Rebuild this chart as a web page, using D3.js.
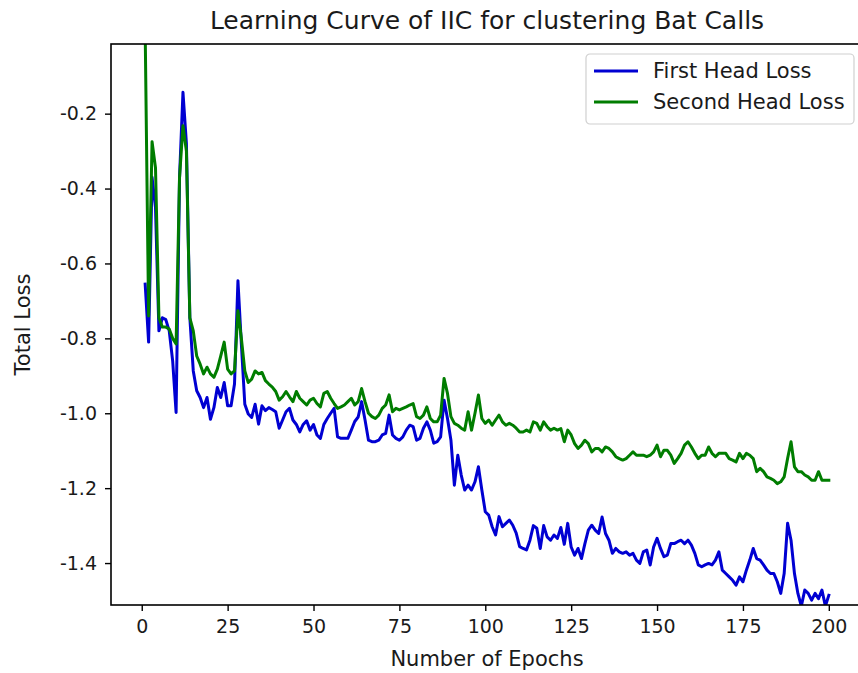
<!DOCTYPE html>
<html>
<head>
<meta charset="utf-8">
<script src="https://cdn.jsdelivr.net/npm/d3@7"></script>
<style>
  html, body { margin: 0; padding: 0; background: #fff; }
  svg { display: block; font-family: "DejaVu Sans", sans-serif; }
</style>
</head>
<body>
<svg id="chart" width="858" height="673"></svg>
<script>
// Training epochs 1..200
const epochs = d3.range(1, 201);

// Loss of the first clustering head per epoch
const firstHeadLoss = [
  -0.655, -0.81, -0.37, -0.45, -0.78, -0.745, -0.75, -0.78, -0.86, -0.998,
  -0.37, -0.143, -0.28, -0.745, -0.887, -0.94, -0.958, -0.985, -0.958, -1.016,
  -0.985, -0.931, -0.958, -0.918, -0.98, -0.98, -0.922, -0.646, -0.815, -0.976,
  -1.002, -1.011, -0.976, -1.029, -0.98, -0.993, -0.985, -0.99, -0.996, -1.04,
  -1.018, -0.996, -0.987, -1.018, -1.03, -1.05, -1.03, -1.02, -1.045, -1.03,
  -1.058, -1.067, -1.03, -1.014, -1.0, -0.987, -1.063, -1.067, -1.067, -1.067,
  -1.045, -1.022, -1.01, -0.969, -1.018, -1.072, -1.076, -1.076, -1.072, -1.058,
  -1.054, -1.005, -1.058, -1.067, -1.072, -1.063, -1.045, -1.032, -1.036, -1.072,
  -1.067, -1.04, -1.023, -1.045, -1.08, -1.076, -1.063, -0.965, -1.014, -1.072,
  -1.192, -1.112, -1.165, -1.205, -1.192, -1.205, -1.183, -1.143, -1.205, -1.263,
  -1.272, -1.303, -1.325, -1.276, -1.303, -1.294, -1.285, -1.299, -1.32, -1.356,
  -1.361, -1.365, -1.339, -1.3, -1.307, -1.361, -1.3, -1.33, -1.339, -1.325,
  -1.334, -1.305, -1.35, -1.294, -1.357, -1.379, -1.361, -1.388, -1.348, -1.312,
  -1.299, -1.312, -1.321, -1.277, -1.321, -1.339, -1.374, -1.361, -1.37, -1.374,
  -1.37, -1.379, -1.374, -1.392, -1.401, -1.37, -1.365, -1.405, -1.357, -1.334,
  -1.361, -1.383, -1.379, -1.348, -1.348, -1.343, -1.339, -1.348, -1.339, -1.352,
  -1.374, -1.405, -1.41, -1.405, -1.401, -1.405, -1.392, -1.37, -1.419, -1.428,
  -1.437, -1.446, -1.459, -1.437, -1.45, -1.419, -1.392, -1.361, -1.388, -1.392,
  -1.405, -1.419, -1.428, -1.428, -1.45, -1.481, -1.428, -1.294, -1.339, -1.428,
  -1.481, -1.515, -1.472, -1.481, -1.499, -1.481, -1.495, -1.472, -1.515, -1.486
];

// Loss of the second clustering head per epoch
const secondHeadLoss = [
  0.02, -0.74, -0.275, -0.344, -0.745, -0.77, -0.77, -0.775, -0.80, -0.815,
  -0.37, -0.232, -0.30, -0.745, -0.78, -0.847, -0.869, -0.895, -0.877, -0.895,
  -0.904, -0.882, -0.847, -0.81, -0.882, -0.895, -0.887, -0.726, -0.80, -0.887,
  -0.918, -0.909, -0.887, -0.895, -0.891, -0.913, -0.922, -0.93, -0.942, -0.965,
  -0.956, -0.942, -0.956, -0.969, -0.942, -0.96, -0.969, -0.978, -0.965, -0.96,
  -0.974, -0.983, -0.947, -0.942, -0.96, -0.974, -0.987, -0.983, -0.978, -0.969,
  -0.96, -0.978, -0.969, -0.934, -0.969, -1.0, -1.009, -1.014, -1.005, -0.987,
  -0.978, -0.951, -0.996, -0.987, -0.991, -0.987, -0.983, -0.978, -0.974, -1.009,
  -1.014, -1.005, -0.983, -1.014, -1.023, -1.023, -1.005, -0.907, -0.947, -1.009,
  -1.027, -1.032, -1.04, -1.045, -0.996, -1.045, -1.0, -0.951, -1.014, -1.027,
  -1.018, -1.032, -1.018, -1.005, -1.023, -1.032, -1.027, -1.032, -1.04, -1.05,
  -1.05, -1.045, -1.05, -1.023, -1.027, -1.045, -1.023, -1.036, -1.045, -1.04,
  -1.045, -1.041, -1.076, -1.045, -1.058, -1.081, -1.094, -1.085, -1.072, -1.081,
  -1.103, -1.094, -1.094, -1.103, -1.09, -1.094, -1.103, -1.116, -1.121, -1.125,
  -1.121, -1.112, -1.103, -1.112, -1.112, -1.112, -1.116, -1.112, -1.103, -1.085,
  -1.116, -1.099, -1.099, -1.112, -1.134, -1.121, -1.107, -1.085, -1.076, -1.09,
  -1.107, -1.121, -1.112, -1.112, -1.09, -1.107, -1.116, -1.107, -1.107, -1.107,
  -1.121, -1.125, -1.13, -1.107, -1.121, -1.107, -1.112, -1.121, -1.156, -1.147,
  -1.156, -1.17, -1.174, -1.179, -1.188, -1.183, -1.17, -1.121, -1.076, -1.143,
  -1.156, -1.156, -1.165, -1.17, -1.179, -1.179, -1.156, -1.179, -1.179, -1.179
];

const xTicks = [0, 25, 50, 75, 100, 125, 150, 175, 200];
const yTicks = [-1.4, -1.2, -1.0, -0.8, -0.6, -0.4, -0.2];

const seriesNames = ["First Head Loss", "Second Head Loss"];
const seriesColors = ["#0000d2", "#007d00"];

const svg = d3.select("#chart");
const W = 858, H = 673;
const plot = { left: 111, top: 44, right: 863, bottom: 605 };

const x = d3.scaleLinear().domain([-8.95, 209.95]).range([plot.left, plot.right]);
const y = d3.scaleLinear().domain([-1.512, -0.014]).range([plot.bottom, plot.top]);

svg.append("rect").attr("width", W).attr("height", H).attr("fill", "#fff");

svg.append("defs").append("clipPath").attr("id", "plotClip")
  .append("rect")
  .attr("x", plot.left).attr("y", plot.top)
  .attr("width", plot.right - plot.left).attr("height", plot.bottom - plot.top);

// Loss curves
const line = d3.line().x((d, i) => x(epochs[i])).y(d => y(d));
const seriesData = [firstHeadLoss, secondHeadLoss];
svg.append("g").attr("clip-path", "url(#plotClip)")
  .selectAll("path").data(seriesData).join("path")
  .attr("d", d => line(d))
  .attr("fill", "none")
  .attr("stroke", (d, i) => seriesColors[i])
  .attr("stroke-width", 3)
  .attr("stroke-linejoin", "round")
  .attr("stroke-linecap", "square");

// Axes
const fmtY = v => d3.format(".1f")(v).replace("−", "-");
const xAxis = d3.axisBottom(x).tickValues(xTicks).tickSize(6).tickPadding(9).tickSizeOuter(0);
const yAxis = d3.axisLeft(y).tickValues(yTicks).tickSize(6).tickPadding(8).tickSizeOuter(0).tickFormat(fmtY);

const gx = svg.append("g").attr("transform", `translate(0,${plot.bottom})`).call(xAxis);
const gy = svg.append("g").attr("transform", `translate(${plot.left},0)`).call(yAxis);
[gx, gy].forEach(g => {
  g.select(".domain").remove();
  g.selectAll(".tick line").attr("stroke", "#000").attr("stroke-width", 1.4);
  g.selectAll(".tick text").attr("fill", "#1a1a1a").attr("font-size", 19)
    .attr("font-family", "DejaVu Sans, sans-serif");
});

// Frame
svg.append("rect")
  .attr("x", plot.left).attr("y", plot.top)
  .attr("width", plot.right - plot.left).attr("height", plot.bottom - plot.top)
  .attr("fill", "none").attr("stroke", "#000").attr("stroke-width", 1.6);

// Title and axis labels
svg.append("text").attr("x", (plot.left + plot.right) / 2).attr("y", 29)
  .attr("text-anchor", "middle").attr("font-size", 25).attr("fill", "#1a1a1a")
  .text("Learning Curve of IIC for clustering Bat Calls");
svg.append("text").attr("x", (plot.left + plot.right) / 2).attr("y", 666)
  .attr("text-anchor", "middle").attr("font-size", 21).attr("fill", "#1a1a1a")
  .text("Number of Epochs");
svg.append("text").attr("transform", `translate(30,${(plot.top + plot.bottom) / 2}) rotate(-90)`)
  .attr("text-anchor", "middle").attr("font-size", 21).attr("fill", "#1a1a1a")
  .text("Total Loss");

// Legend
const lg = svg.append("g").attr("transform", "translate(586,54)");
lg.append("rect").attr("width", 268).attr("height", 70).attr("rx", 4)
  .attr("fill", "#fff").attr("fill-opacity", 0.8).attr("stroke", "#d0d0d0").attr("stroke-width", 1.2);
seriesNames.forEach((name, i) => {
  const cy = 17 + i * 31;
  lg.append("line").attr("x1", 8).attr("x2", 52).attr("y1", cy).attr("y2", cy)
    .attr("stroke", seriesColors[i]).attr("stroke-width", 3);
  lg.append("text").attr("x", 67).attr("y", cy).attr("dy", "0.35em")
    .attr("font-size", 21).attr("fill", "#1a1a1a").text(name);
});
</script>
</body>
</html>
